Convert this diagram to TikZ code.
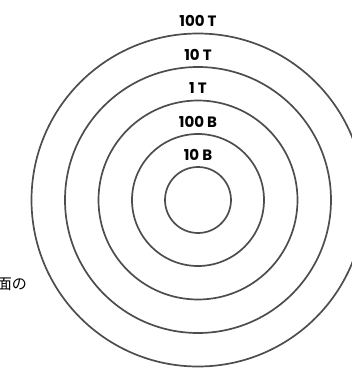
\documentclass[tikz,border=0pt]{standalone}
\usepackage{fontspec}
\setmainfont{Poppins}
\newfontfamily\jpfont{Noto Sans CJK JP}
\usetikzlibrary{calc,positioning}
\definecolor{ringgray}{HTML}{4D4D4D}

\begin{document}
\begin{tikzpicture}[x=1pt, y=-1pt, ring/.style={draw=ringgray, line width=1.7pt, circle, inner sep=0pt
}, lbl/.style={font=\bfseries\fontsize{15}{15}\selectfont, anchor=base, inner sep=0pt
}]

\useasboundingbox (0,0) rectangle (352,368);
\coordinate (O) at (198,200);
\foreach \n/\r/\t in {a/33/10 B,b/66/100 B,c/99.5/1 T,d/133/10 T,e/166.5/100 T}{
\node[ring, minimum size=2*\r pt] (\n) at (O){};
\node[lbl] (t\n) at ($(\n.north)+(0,-6)$) {\t};
}
\node[font=\jpfont\fontsize{15}{15}\selectfont, anchor=base east, inner sep=0pt] (side) at (27,289) {画面の};
\end{tikzpicture}
\end{document}
